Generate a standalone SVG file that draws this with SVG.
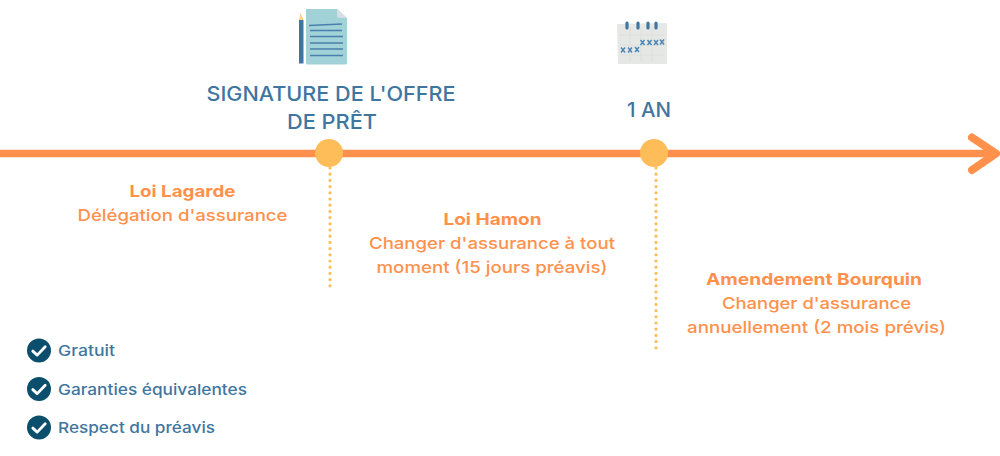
<svg xmlns="http://www.w3.org/2000/svg" width="1000" height="456" viewBox="0 0 1000 456">
<style>
text{font-family:"Inter","Open Sans","Liberation Sans",sans-serif;}
.h{font-size:20px;font-weight:500;fill:#3f76a0;text-anchor:middle}
.o{font-size:16.500px;font-weight:500;fill:#ff914d;text-anchor:middle}
.ob{font-size:16.500px;font-weight:700;fill:#ff914d;text-anchor:middle}
.c{font-size:15px;font-weight:500;fill:#3f76a0}
.dot{fill:none;stroke:#ffbd59;stroke-width:3.200;stroke-linecap:round;stroke-dasharray:0 6.200}
.ln{fill:none;stroke:#4a7fae;stroke-width:1.600}
.x{fill:none;stroke:#4a86b5;stroke-width:1.500}
.grid{fill:none;stroke:#d9dddb;stroke-width:.8}
.ring{stroke:#3f76a0;stroke-width:3.200;stroke-linecap:round}
</style>
<defs>
<g id="check"><circle r="12" fill="#0b4f6c"/><path d="M-6.200 .6L-1.800 4.600L6.200 -3.800" fill="none" stroke="#fff" stroke-width="2.800" stroke-linecap="round" stroke-linejoin="round"/></g>
<path id="xm" class="x" d="M-2 -2.400L2 2.400M2 -2.400L-2 2.400"/>
</defs>
<g id="connectors">
<path d="M0 153.500H995" fill="none" stroke="#ff914d" stroke-width="7.500"/>
<path d="M972 137.500L996 153.500L972 170" fill="none" stroke="#ff914d" stroke-width="8" stroke-linecap="round" stroke-linejoin="round"/>
<path class="dot" d="M330 168V286"/>
<path class="dot" d="M656 168V351"/>
</g>
<g id="node-signature">
<path d="M299 20H303.500V63.500H299Z" fill="#3f76a0"/>
<path d="M299 20L300.500 12.500L303.500 20Z" fill="#ffd08a"/>
<path d="M306 9H337L347 18V63Q347 64.500 345 64.500H308Q306 64.500 306 63Z" fill="#a0d2d7"/>
<path d="M337 9L347 18H339Q337 18 337 16Z" fill="#d3dfe6"/>
<path class="ln" d="M309 25.500L342 24M310 30.500H342M310 36.500H343M310 43H343M310 49H343M310 55.500H343"/>
<text class="h" x="331" y="101" textLength="249" lengthAdjust="spacingAndGlyphs">SIGNATURE DE L'OFFRE</text>
<text class="h" x="332" y="129" textLength="90" lengthAdjust="spacingAndGlyphs">DE PRÊT</text>
<circle cx="329" cy="153" r="14" fill="#ffbd59"/>
</g>
<g id="node-1an">
<path d="M617 24L667 23V64H618Z" fill="#e6e8e6"/>
<path class="grid" d="M620 35H664M620 45H664M620 55H664M630 27V62M641 27V62M652 27V62"/>
<path class="ring" d="M627 23V28M638 23V28M648 23V28M656 23V28"/>
<use href="#xm" x="623" y="50"/><use href="#xm" x="630" y="50"/><use href="#xm" x="637" y="49.500"/>
<use href="#xm" x="642.500" y="42.500"/><use href="#xm" x="649.500" y="42.500"/><use href="#xm" x="656" y="42.500"/><use href="#xm" x="662" y="42"/>
<text class="h" x="649" y="117" textLength="44" lengthAdjust="spacingAndGlyphs">1 AN</text>
<circle cx="654" cy="153" r="14" fill="#ffbd59"/>
</g>
<g id="node-lagarde">
<text class="ob" x="182.500" y="197" textLength="106" lengthAdjust="spacingAndGlyphs">Loi Lagarde</text>
<text class="o" x="182.500" y="221" textLength="210" lengthAdjust="spacingAndGlyphs">Délégation d'assurance</text>
</g>
<g id="node-hamon">
<text class="ob" x="492.500" y="225" textLength="98" lengthAdjust="spacingAndGlyphs">Loi Hamon</text>
<text class="o" x="492" y="249" textLength="246" lengthAdjust="spacingAndGlyphs">Changer d'assurance à tout</text>
<text class="o" x="492" y="273" textLength="231" lengthAdjust="spacingAndGlyphs">moment (15 jours préavis)</text>
</g>
<g id="node-bourquin">
<text class="ob" x="814" y="285" textLength="216" lengthAdjust="spacingAndGlyphs">Amendement Bourquin</text>
<text class="o" x="816.500" y="309" textLength="189" lengthAdjust="spacingAndGlyphs">Changer d'assurance</text>
<text class="o" x="816.500" y="333" textLength="259" lengthAdjust="spacingAndGlyphs">annuellement (2 mois prévis)</text>
</g>
<g id="node-gratuit"><use href="#check" x="39" y="350.500"/><text class="c" x="58" y="356" textLength="57" lengthAdjust="spacingAndGlyphs">Gratuit</text></g>
<g id="node-garanties"><use href="#check" x="39" y="389"/><text class="c" x="58" y="395" textLength="189" lengthAdjust="spacingAndGlyphs">Garanties équivalentes</text></g>
<g id="node-respect"><use href="#check" x="39" y="427.500"/><text class="c" x="58" y="433" textLength="157" lengthAdjust="spacingAndGlyphs">Respect du préavis</text></g>
</svg>
